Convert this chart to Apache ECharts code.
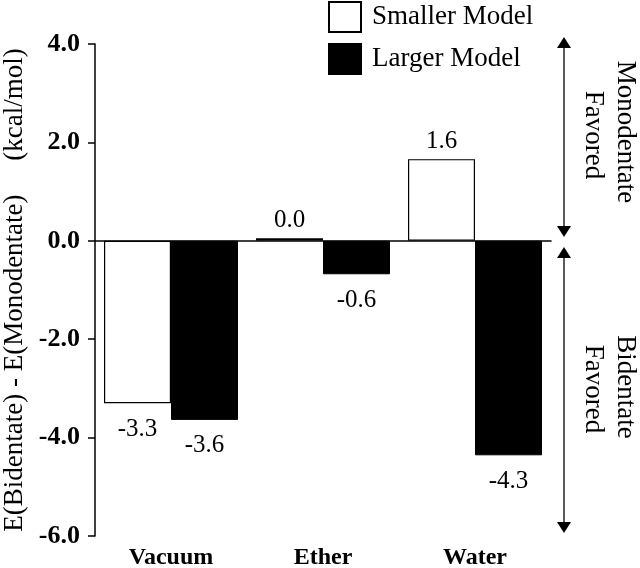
<!DOCTYPE html>
<html>
<head>
<meta charset="utf-8">
<script src="https://cdn.jsdelivr.net/npm/echarts@6/dist/echarts.min.js"></script>
<style>html,body{margin:0;padding:0;background:#fff}#c{width:640px;height:568px}</style>
</head>
<body>
<div id="c"></div>
<script>
const categories = ['Vacuum', 'Ether', 'Water'];
const smallerModel = [-3.30, 0.05, 1.66];
const largerModel = [-3.64, -0.68, -4.36];
const smallerLabels = ['-3.3', '0.0', '1.6'];
const largerLabels = ['-3.6', '-0.6', '-4.3'];
const yTicks = [-6, -4, -2, 0, 2, 4];

const FONT = "'Liberation Serif', 'Times New Roman', serif";

function items(values, labels) {
  return values.map((v, i) => ({
    value: v,
    label: {
      position: v < 0 ? 'bottom' : 'top',
      distance: v < 0 ? 13.5 : 5,
      formatter: labels[i]
    }
  }));
}

const chart = echarts.init(document.getElementById('c'), null, { renderer: 'canvas' });

function arrowHead(x, tipY, dir) {
  const h = 11, w = 7;
  const baseY = tipY + (dir === 'up' ? h : -h);
  return {
    type: 'polygon',
    shape: { points: [[x, tipY], [x - w, baseY], [x + w, baseY]] },
    style: { fill: '#000' }
  };
}

const AX = 564;

chart.setOption({
  animation: false,
  backgroundColor: '#fff',
  grid: { left: 95, right: 89, top: 44, bottom: 32, containLabel: false, outerBoundsMode: 'none' },
  legend: {
    orient: 'vertical',
    left: 328, top: 1, padding: 0,
    itemWidth: 32, itemHeight: 30, itemGap: 10,
    icon: 'rect',
    textStyle: { fontFamily: FONT, fontSize: 27, color: '#000', padding: [2, 0, 0, 6] },
    data: ['Smaller Model', 'Larger Model']
  },
  xAxis: [
    {
      type: 'category', data: categories,
      axisLine: { onZero: true, lineStyle: { color: '#000', width: 1.5 } },
      axisTick: { show: false }, axisLabel: { show: false }, splitLine: { show: false }
    },
    {
      type: 'category', data: categories, position: 'bottom',
      axisLine: { show: false, onZero: false }, axisTick: { show: false },
      axisLabel: { fontFamily: FONT, fontSize: 24, fontWeight: 'bold', color: '#000', margin: 10 },
      splitLine: { show: false }
    }
  ],
  yAxis: {
    type: 'value', min: -6, max: 4, interval: 2,
    name: 'E(Bidentate) - E(Monodentate)     (kcal/mol)',
    nameLocation: 'middle', nameGap: 66,
    nameTextStyle: { fontFamily: FONT, fontSize: 27, color: '#000' },
    axisLine: { show: true, lineStyle: { color: '#000', width: 1.5 } },
    axisTick: { show: true, length: 7, lineStyle: { color: '#000', width: 1.5 } },
    axisLabel: {
      fontFamily: FONT, fontSize: 26, fontWeight: 'bold', color: '#000', margin: 15,
      formatter: v => yTicks.includes(v) ? v.toFixed(1) : ''
    },
    splitLine: { show: false }
  },
  series: [
    {
      name: 'Smaller Model', type: 'bar', xAxisIndex: 0,
      barWidth: 67, barGap: '0%',
      itemStyle: { color: '#fff', borderColor: '#000', borderWidth: 1.2 },
      label: { show: true, fontFamily: FONT, fontSize: 25, color: '#000' },
      data: items(smallerModel, smallerLabels)
    },
    {
      name: 'Larger Model', type: 'bar', xAxisIndex: 0,
      barWidth: 67, barGap: '0%',
      itemStyle: { color: '#000', borderColor: '#000', borderWidth: 1 },
      label: { show: true, fontFamily: FONT, fontSize: 25, color: '#000' },
      data: items(largerModel, largerLabels)
    }
  ],
  graphic: [
    { type: 'line', shape: { x1: AX, y1: 42, x2: AX, y2: 232 }, style: { stroke: '#000', lineWidth: 1.3 } },
    arrowHead(AX, 37, 'up'),
    arrowHead(AX, 237, 'down'),
    { type: 'line', shape: { x1: AX, y1: 252, x2: AX, y2: 528 }, style: { stroke: '#000', lineWidth: 1.3 } },
    arrowHead(AX, 247, 'up'),
    arrowHead(AX, 533, 'down'),
    { type: 'text', x: 625, y: 132, rotation: -Math.PI / 2,
      style: { text: 'Monodentate', font: '27px ' + FONT, fill: '#000', align: 'center', verticalAlign: 'middle' } },
    { type: 'text', x: 593, y: 135, rotation: -Math.PI / 2,
      style: { text: 'Favored', font: '27px ' + FONT, fill: '#000', align: 'center', verticalAlign: 'middle' } },
    { type: 'text', x: 625, y: 387, rotation: -Math.PI / 2,
      style: { text: 'Bidentate', font: '27px ' + FONT, fill: '#000', align: 'center', verticalAlign: 'middle' } },
    { type: 'text', x: 593, y: 389, rotation: -Math.PI / 2,
      style: { text: 'Favored', font: '27px ' + FONT, fill: '#000', align: 'center', verticalAlign: 'middle' } }
  ]
});
</script>
</body>
</html>
